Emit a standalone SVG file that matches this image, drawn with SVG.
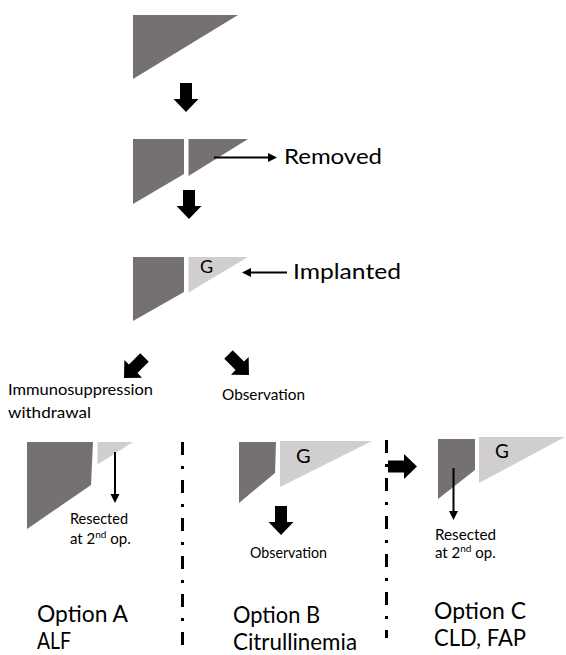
<svg xmlns="http://www.w3.org/2000/svg" width="566" height="655" viewBox="0 0 566 655">
<style>
.dk{fill:#767171}
.lt{fill:#d0cece}
.blk{fill:#000}
text{font-family:Lato,"Open Sans","Liberation Sans",sans-serif;fill:#000}
.thin{stroke:#000;stroke-width:2;fill:none}
.div{stroke:#000;stroke-width:3;stroke-dasharray:13 11 3 11;fill:none}
</style>
<defs>
<path id="barrow" d="M0,0 L-12.5,-13 L-6,-13 L-6,-29 L6,-29 L6,-13 L12.5,-13 Z"/>
<marker id="ah" markerUnits="userSpaceOnUse" markerWidth="10" markerHeight="10" refX="3" refY="4.5" orient="auto">
<path d="M0,0 L9,4.5 L0,9 Z" fill="#000"/>
</marker>
</defs>

<g id="liver-whole">
<polygon class="dk" points="133,15 238,15 133,79"/>
</g>

<g id="liver-split">
<polygon class="dk" points="133,139 184,139 184,174 133,204"/>
<polygon class="dk" points="188.5,139 248,139 188.5,176"/>
</g>
<g id="label-removed"><text x="284" y="164" font-size="21" textLength="98" lengthAdjust="spacingAndGlyphs">Removed</text></g>

<g id="liver-implanted">
<polygon class="dk" points="133,257 184,257 184,292 133,321"/>
<polygon class="lt" points="188.5,257 248,257 188.5,292.5"/>
<text x="200" y="273" font-size="18">G</text>
</g>
<g id="label-implanted"><text x="293" y="279" font-size="21" textLength="108" lengthAdjust="spacingAndGlyphs">Implanted</text></g>

<g id="label-immuno">
<text x="8" y="395" font-size="16" textLength="145" lengthAdjust="spacingAndGlyphs">Immunosuppression</text>
<text x="8" y="418" font-size="16" textLength="83" lengthAdjust="spacingAndGlyphs">withdrawal</text>
</g>
<g id="label-observation"><text x="222" y="400" font-size="16" textLength="83" lengthAdjust="spacingAndGlyphs">Observation</text></g>

<g id="option-a">
<polygon class="dk" points="27,442 93,442 91,485 27,529"/>
<polygon class="lt" points="97.5,442 133,442 97.5,464.5"/>
<text x="70" y="524" font-size="15" textLength="58" lengthAdjust="spacingAndGlyphs">Resected</text>
<text x="70" y="544" font-size="15">at 2<tspan font-size="10" baseline-shift="super">nd</tspan> op.</text>
<text x="37" y="622" font-size="22.5" textLength="91" lengthAdjust="spacingAndGlyphs">Option A</text>
<text x="37" y="649" font-size="22.5" textLength="34" lengthAdjust="spacingAndGlyphs">ALF</text>
</g>

<g id="option-b">
<polygon class="dk" points="239,442 276,442 275,473 239,503"/>
<polygon class="lt" points="280,441 372,441 280,487"/>
<text x="296" y="463" font-size="20">G</text>
<text x="250" y="558" font-size="15" textLength="77" lengthAdjust="spacingAndGlyphs">Observation</text>
<text x="233" y="623" font-size="22.5" textLength="87" lengthAdjust="spacingAndGlyphs">Option B</text>
<text x="233" y="650" font-size="22.5" textLength="124" lengthAdjust="spacingAndGlyphs">Citrullinemia</text>
</g>

<g id="option-c">
<polygon class="dk" points="438,439 475,439 475,470 438,499"/>
<polygon class="lt" points="479,437 565,437 479,483"/>
<text x="495" y="458" font-size="19">G</text>
<text x="435" y="540" font-size="15" textLength="61" lengthAdjust="spacingAndGlyphs">Resected</text>
<text x="435" y="558" font-size="15">at 2<tspan font-size="10" baseline-shift="super">nd</tspan> op.</text>
<text x="434" y="619" font-size="22.5" textLength="92" lengthAdjust="spacingAndGlyphs">Option C</text>
<text x="434" y="646" font-size="22.5" textLength="92" lengthAdjust="spacingAndGlyphs">CLD, FAP</text>
</g>

<g id="dividers">
<line class="div" x1="182.5" y1="442" x2="182.5" y2="647"/>
<line class="div" x1="386.5" y1="440" x2="386.5" y2="638"/>
</g>

<g id="connectors">
<use href="#barrow" class="blk" transform="translate(186,112)"/>
<use href="#barrow" class="blk" transform="translate(189,219)"/>
<use href="#barrow" class="blk" transform="translate(124,378) rotate(45)"/>
<use href="#barrow" class="blk" transform="translate(249,375) rotate(-45)"/>
<use href="#barrow" class="blk" transform="translate(281,535)"/>
<use href="#barrow" class="blk" transform="translate(417,466.5) rotate(-90)"/>
<line class="thin" x1="214" y1="157.5" x2="271" y2="157.5" marker-end="url(#ah)"/>
<line class="thin" x1="287" y1="272.5" x2="248" y2="272.5" marker-end="url(#ah)"/>
<line class="thin" x1="115" y1="452" x2="115" y2="497" marker-end="url(#ah)"/>
<line class="thin" x1="453.5" y1="468" x2="453.5" y2="514" marker-end="url(#ah)"/>
</g>
</svg>
